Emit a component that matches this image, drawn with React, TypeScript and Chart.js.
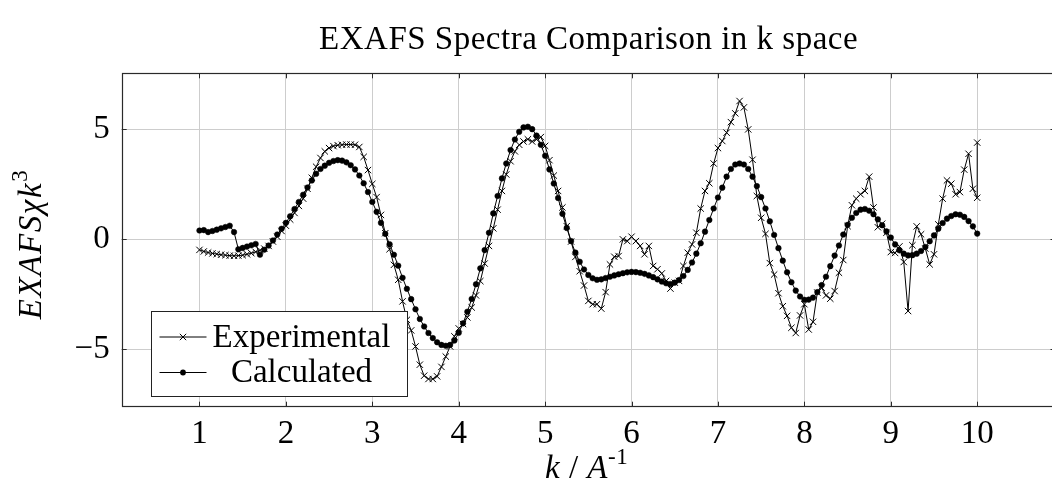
import React, { useEffect, useRef } from 'react';
import { Chart, registerables } from 'chart.js';

Chart.register(...registerables);

// ---- data ----
const K_START = 1.0;
const K_STEP = 0.05;

const calculated: number[] = [
  0.40, 0.42, 0.33, 0.38, 0.44, 0.50, 0.56, 0.62, 0.33, -0.45,
  -0.39, -0.33, -0.27, -0.21, -0.70, -0.47, -0.28, -0.05, 0.22, 0.48,
  0.75, 1.05, 1.38, 1.70, 2.03, 2.36, 2.68, 2.98, 3.20, 3.35,
  3.48, 3.56, 3.60, 3.58, 3.50, 3.37, 3.18, 2.90, 2.55, 2.15,
  1.70, 1.25, 0.75, 0.25, -0.22, -0.70, -1.20, -1.75, -2.25, -2.72,
  -3.18, -3.62, -3.96, -4.26, -4.49, -4.68, -4.80, -4.84, -4.80, -4.60,
  -4.25, -3.82, -3.29, -2.71, -2.04, -1.32, -0.49, 0.30, 1.18, 1.97,
  2.77, 3.45, 4.06, 4.54, 4.89, 5.09, 5.12, 5.01, 4.72, 4.30,
  3.80, 3.18, 2.54, 1.88, 1.16, 0.52, -0.08, -0.60, -1.02, -1.37,
  -1.62, -1.77, -1.84, -1.82, -1.76, -1.70, -1.64, -1.59, -1.54, -1.50,
  -1.48, -1.49, -1.52, -1.57, -1.64, -1.72, -1.82, -1.92, -2.00, -2.03,
  -1.97, -1.85, -1.67, -1.39, -1.05, -0.65, -0.18, 0.35, 0.88, 1.40,
  1.90, 2.35, 2.85, 3.20, 3.40, 3.45, 3.40, 3.20, 2.85, 2.42,
  1.92, 1.40, 0.82, 0.20, -0.40, -0.97, -1.50, -1.95, -2.33, -2.60,
  -2.75, -2.74, -2.65, -2.40, -2.08, -1.70, -1.22, -0.74, -0.28, 0.22,
  0.66, 0.98, 1.20, 1.35, 1.38, 1.30, 1.14, 0.91, 0.64, 0.36,
  0.08, -0.23, -0.50, -0.65, -0.73, -0.72, -0.65, -0.53, -0.35, -0.09,
  0.18, 0.48, 0.74, 0.94, 1.06, 1.14, 1.12, 1.02, 0.83, 0.59,
  0.26,
];

const experimental: number[] = [
  -0.48, -0.55, -0.60, -0.64, -0.67, -0.70, -0.72, -0.74, -0.75, -0.74,
  -0.72, -0.68, -0.63, -0.57, -0.50, -0.42, -0.30, -0.10, 0.12, 0.38,
  0.62, 0.90, 1.20, 1.52, 1.85, 2.30, 2.80, 3.30, 3.70, 4.00,
  4.15, 4.24, 4.28, 4.30, 4.31, 4.31, 4.30, 4.20, 3.75, 3.15,
  2.52, 1.92, 1.11, 0.28, -0.45, -1.16, -1.84, -2.82, -3.66, -4.14,
  -4.87, -5.70, -6.20, -6.35, -6.35, -6.23, -5.80, -5.33, -4.87, -4.41,
  -4.05, -3.85, -3.55, -3.10, -2.55, -1.90, -1.10, -0.30, 0.50, 1.35,
  2.20, 2.95, 3.55, 4.00, 4.30, 4.45, 4.55, 4.45, 4.55, 4.65,
  4.25, 3.60, 2.90, 2.20, 1.45, 0.60, -0.10, -0.80, -1.45, -2.10,
  -2.80, -2.95, -2.95, -3.15, -2.40, -1.14, -0.79, -0.76, 0.00, -0.08,
  0.12, -0.08, -0.30, -0.68, -0.30, -1.21, -1.36, -1.55, -1.89, -2.24,
  -1.97, -1.89, -1.21, -0.61, -0.23, 0.30, 1.40, 2.20, 2.55, 3.45,
  4.15, 4.47, 4.85, 5.33, 5.73, 6.29, 6.00, 5.00, 3.62, 1.97,
  0.98, 0.25, -1.08, -1.60, -2.45, -3.04, -3.48, -4.02, -4.26, -3.46,
  -2.95, -4.10, -3.75, -2.42, -2.20, -2.55, -2.70, -2.35, -1.52, -0.94,
  0.60, 1.55, 1.85, 2.05, 2.20, 2.85, 1.45, 0.55, 0.71, 0.30,
  -0.58, -0.62, -0.32, -1.03, -3.26, -0.27, 0.59, 0.23, -0.42, -1.14,
  -0.68, 0.68, 1.85, 2.68, 2.53, 2.05, 2.15, 3.17, 3.89, 2.30,
  1.89,
];

// the experimental record ends with a second reading at k = 10
const experimentalExtraK: number[] = [10.0];
const experimentalExtraV: number[] = [4.4];

const xTicks: number[] = [1, 2, 3, 4, 5, 6, 7, 8, 9, 10];
const yTicks: number[] = [-5, 0, 5];

const TITLE = 'EXAFS Spectra Comparison in k space';
const SERIES = ['Experimental', 'Calculated'];

// ---- styling ----
const FAMILY = '"Liberation Serif", "Times New Roman", serif';
const FS = 33;
const GRID = '#cdcdcd';
const AXIS = '#2a2a2a';

const kValues = calculated.map((_, i) => Math.round((K_START + i * K_STEP) * 100) / 100);

type Part = { t: string; it?: boolean; sup?: boolean };

function partFont(p: Part) {
  const size = p.sup ? Math.round(FS * 0.7) : FS;
  return `${p.it ? 'italic ' : ''}${size}px ${FAMILY}`;
}

function drawRich(ctx: CanvasRenderingContext2D, parts: Part[], cx: number, baseline: number, spacing = 0) {
  const c: any = ctx;
  c.letterSpacing = `${spacing}px`;
  let total = 0;
  const widths = parts.map((p) => {
    ctx.font = partFont(p);
    const w = ctx.measureText(p.t).width;
    total += w;
    return w;
  });
  let x = cx - total / 2;
  ctx.textAlign = 'left';
  ctx.textBaseline = 'alphabetic';
  parts.forEach((p, i) => {
    ctx.font = partFont(p);
    ctx.fillText(p.t, x, p.sup ? baseline - FS * 0.42 : baseline);
    x += widths[i];
  });
  c.letterSpacing = '0px';
}

function drawCross(ctx: CanvasRenderingContext2D, x: number, y: number, r: number) {
  const d = r * Math.SQRT1_2;
  ctx.beginPath();
  ctx.moveTo(x - d, y - d);
  ctx.lineTo(x + d, y + d);
  ctx.moveTo(x - d, y + d);
  ctx.lineTo(x + d, y - d);
  ctx.stroke();
}

const decorations = {
  id: 'decorations',
  afterDatasetsDraw(chart: any) {
    const { ctx, chartArea: a } = chart;
    const xs = chart.scales.x;
    const ys = chart.scales.y;
    ctx.save();
    // tick marks (inside, all four sides)
    ctx.strokeStyle = AXIS;
    ctx.lineWidth = 1;
    const TL = 5;
    ctx.beginPath();
    xTicks.forEach((v) => {
      const px = Math.round(xs.getPixelForValue(v)) + 0.5;
      ctx.moveTo(px, a.bottom);
      ctx.lineTo(px, a.bottom - TL);
      ctx.moveTo(px, a.top);
      ctx.lineTo(px, a.top + TL);
    });
    yTicks.forEach((v) => {
      const py = Math.round(ys.getPixelForValue(v)) + 0.5;
      ctx.moveTo(a.left, py);
      ctx.lineTo(a.left + TL, py);
      ctx.moveTo(a.right, py);
      ctx.lineTo(a.right - TL, py);
    });
    ctx.stroke();
    // frame
    ctx.lineWidth = 1.2;
    ctx.strokeRect(Math.round(a.left) + 0.5, Math.round(a.top) + 0.5, Math.round(a.right - a.left), Math.round(a.bottom - a.top));

    // legend
    const bx = Math.round(a.left + 29) + 0.5;
    const bw = 256;
    const bh = 85;
    const by = Math.round(a.bottom - 11 - bh) + 0.5;
    ctx.fillStyle = '#ffffff';
    ctx.fillRect(bx, by, bw, bh);
    ctx.strokeStyle = '#222';
    ctx.lineWidth = 1;
    ctx.strokeRect(bx, by, bw, bh);
    const rows = [by + 25.5, by + 61];
    const lx0 = bx + 8;
    const lx1 = bx + 55;
    const lmid = (lx0 + lx1) / 2;
    const textCenter = bx + 150;
    rows.forEach((ry, i) => {
      ctx.strokeStyle = '#000';
      ctx.lineWidth = 1;
      ctx.beginPath();
      ctx.moveTo(lx0, ry);
      ctx.lineTo(lx1, ry);
      ctx.stroke();
      if (i === 0) {
        drawCross(ctx, lmid, ry, 4.5);
      } else {
        ctx.fillStyle = '#000';
        ctx.beginPath();
        ctx.arc(lmid, ry, 2.9, 0, Math.PI * 2);
        ctx.fill();
      }
      ctx.fillStyle = '#000';
      ctx.font = `${FS}px ${FAMILY}`;
      ctx.textAlign = 'center';
      ctx.textBaseline = 'middle';
      ctx.fillText(SERIES[i], textCenter, ry + 1);
    });
    ctx.restore();
  },
  afterDraw(chart: any) {
    const { ctx, chartArea: a } = chart;
    ctx.save();
    ctx.fillStyle = '#000';
    const cx = (a.left + a.right) / 2;
    // title
    drawRich(ctx, [{ t: TITLE }], cx, a.top - 24, 0.5);
    // x axis label
    drawRich(ctx, [{ t: 'k', it: true }, { t: ' / ' }, { t: 'A', it: true }, { t: '-1', sup: true }], cx - 2, 478, 0.5);
    // y axis label (rotated)
    ctx.translate(41, (a.top + a.bottom) / 2 + 4);
    ctx.rotate(-Math.PI / 2);
    drawRich(ctx, [{ t: 'EXAFSχk', it: true }, { t: '3', sup: true }], 0, 0, 1.6);
    ctx.restore();
  },
};

export default function App() {
  const ref = useRef<HTMLCanvasElement | null>(null);

  useEffect(() => {
    if (!ref.current) return;
    const expPoints = kValues.map((k, i) => ({ x: k, y: experimental[i] }));
    experimentalExtraK.forEach((k, i) => expPoints.push({ x: k, y: experimentalExtraV[i] }));
    const calcPoints = kValues.map((k, i) => ({ x: k, y: calculated[i] }));

    const chart = new Chart(ref.current, {
      type: 'line',
      data: {
        datasets: [
          {
            label: SERIES[0],
            data: expPoints,
            borderColor: '#000',
            backgroundColor: '#000',
            borderWidth: 1,
            pointStyle: 'crossRot',
            pointRadius: 4.5,
            pointBorderWidth: 1,
            pointBorderColor: '#000',
            tension: 0,
            order: 2,
          },
          {
            label: SERIES[1],
            data: calcPoints,
            borderColor: '#000',
            backgroundColor: '#000',
            borderWidth: 1,
            pointStyle: 'circle',
            pointRadius: 2.8,
            pointBorderWidth: 0.5,
            pointBackgroundColor: '#000',
            pointBorderColor: '#000',
            tension: 0,
            order: 1,
          },
        ],
      },
      options: {
        responsive: false,
        maintainAspectRatio: false,
        animation: false,
        events: [],
        layout: { padding: { top: 73.3, left: 0, right: 0, bottom: 0 } },
        plugins: {
          legend: { display: false },
          title: { display: false },
          tooltip: { enabled: false },
        },
        scales: {
          x: {
            type: 'linear',
            min: 0.1,
            max: 10.906,
            afterBuildTicks: (s: any) => {
              s.ticks = xTicks.map((v) => ({ value: v }));
            },
            afterFit: (s: any) => {
              s.height = 85.3;
            },
            border: { display: false },
            grid: { color: GRID, lineWidth: 1, drawTicks: false },
            ticks: {
              padding: 8,
              color: '#000',
              maxRotation: 0,
              autoSkip: false,
              font: { family: FAMILY, size: FS },
              callback: (v: any) => String(v),
            },
          },
          y: {
            type: 'linear',
            min: -7.61,
            max: 7.55,
            afterBuildTicks: (s: any) => {
              s.ticks = yTicks.map((v) => ({ value: v }));
            },
            afterFit: (s: any) => {
              s.width = 121.7;
            },
            border: { display: false },
            grid: { color: GRID, lineWidth: 1, drawTicks: false },
            ticks: {
              padding: 12,
              color: '#000',
              font: { family: FAMILY, size: FS },
              callback: (v: any) => (v < 0 ? '\u2212' + Math.abs(v) : String(v)),
            },
          },
        },
      },
      plugins: [decorations],
    });
    return () => chart.destroy();
  }, []);

  return (
    <div
      style={{
        position: 'fixed',
        left: 0,
        top: 0,
        width: 1052,
        height: 492,
        overflow: 'hidden',
        background: '#fff',
      }}
    >
      <canvas ref={ref} width={1061} height={492} style={{ display: 'block', width: 1061, height: 492 }} />
    </div>
  );
}
